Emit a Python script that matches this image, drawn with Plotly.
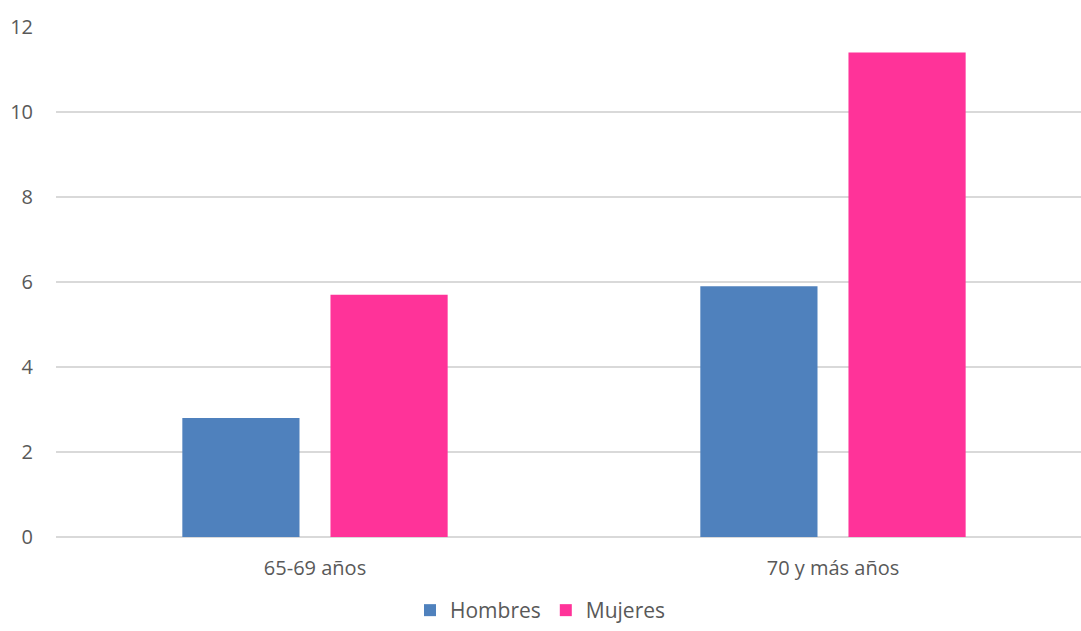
import plotly.graph_objects as go

categories = ["65-69 años", "70 y más años"]
hombres = [2.8, 5.9]
mujeres = [5.7, 11.4]
y_ticks = [0, 2, 4, 6, 8, 10, 12]

font_family = "Open Sans, Liberation Sans, sans-serif"
text_color = "#595959"
grid_color = "#d9d9d9"

fig = go.Figure()
fig.add_trace(go.Bar(name="Hombres", x=categories, y=hombres,
                     marker=dict(color="#4f81bd", line=dict(width=0))))
fig.add_trace(go.Bar(name="Mujeres", x=categories, y=mujeres,
                     marker=dict(color="#ff3399", line=dict(width=0))))

fig.update_layout(
    width=1081, height=631,
    margin=dict(l=56, r=0, t=27, b=94, autoexpand=False),
    paper_bgcolor="white", plot_bgcolor="white",
    barmode="group", bargap=0.428, bargroupgap=0.209,
    font=dict(family=font_family, size=20, color=text_color),
    showlegend=True,
    legend=dict(orientation="h", xref="container", yref="container",
                x=0.5, xanchor="center", y=-0.005, yanchor="bottom",
                font=dict(size=21, color=text_color),
                itemwidth=30, tracegroupgap=0, traceorder="normal"),
    xaxis=dict(range=[-0.5, 1.4788], showgrid=False, showline=False,
               ticks="", ticklabelstandoff=17, zeroline=False,
               automargin=False),
    yaxis=dict(range=[0, 12], tickvals=y_ticks, showgrid=True,
               gridcolor=grid_color, gridwidth=1.5, zeroline=True,
               zerolinecolor=grid_color, zerolinewidth=1.5,
               showline=False, ticks="", ticklabelstandoff=22,
               automargin=False),
)

fig.write_html("out.html")
